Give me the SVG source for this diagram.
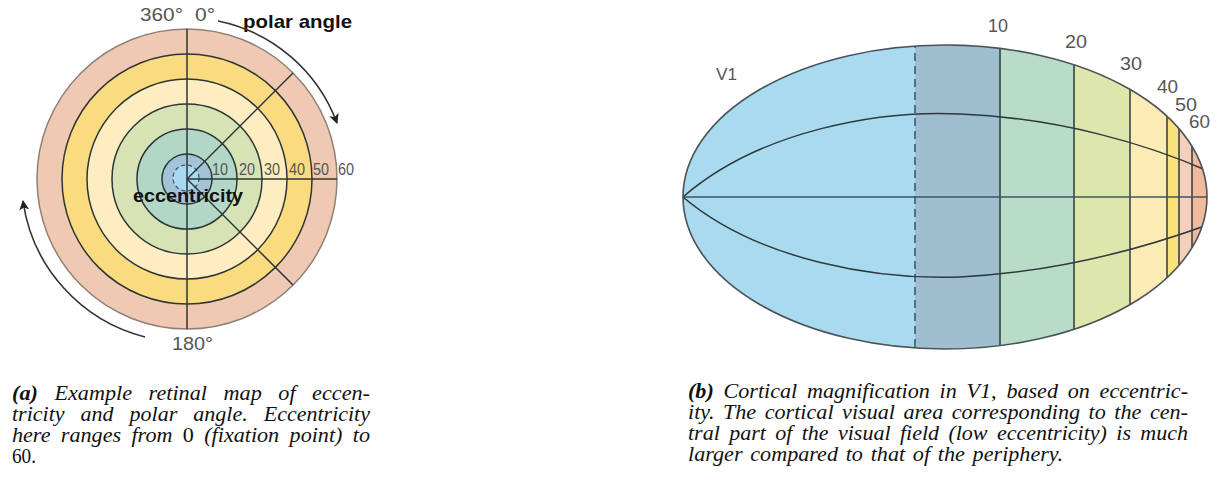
<svg xmlns="http://www.w3.org/2000/svg" width="1230" height="481" viewBox="0 0 1230 481">
<style>
.lbl{font-family:"Liberation Sans",Arial,sans-serif;fill:#555}
.bold{font-family:"Liberation Sans",Arial,sans-serif;font-weight:bold;fill:#111}
.cap{font-family:"Liberation Serif","Times New Roman",serif;font-style:italic;font-size:20px;fill:#111}
.up{font-style:normal}
.ring{stroke:#2e3536;stroke-width:1.5}
.grid{stroke:#2e3a3e;stroke-width:1.5;fill:none}
.arc{stroke:#333;stroke-width:1.6;fill:none}
</style>
<defs>
<marker id="ah" viewBox="0 0 10 10" refX="9" refY="5" markerWidth="10" markerHeight="10" markerUnits="userSpaceOnUse" orient="auto">
<path d="M0,0 L10,5 L0,10 L2.5,5 z" fill="#222"/>
</marker>
<clipPath id="ell"><ellipse cx="945" cy="197" rx="262" ry="152"/></clipPath>
</defs>
<rect width="1230" height="481" fill="#fff"/>

<g id="retinal-map">
<circle cx="187" cy="179" r="150" fill="#efc9b1" stroke="#8f8078" stroke-width="1.5"/>
<circle class="ring" cx="187" cy="179" r="125" fill="#fbdb80"/>
<circle class="ring" cx="187" cy="179" r="100" fill="#fdedc0"/>
<circle class="ring" cx="187" cy="179" r="75" fill="#d5e3b5"/>
<circle class="ring" cx="187" cy="179" r="50" fill="#b3d7c6"/>
<circle class="ring" cx="187" cy="179" r="25" fill="#a3c3d6"/>
<circle cx="186" cy="178" r="13" fill="#a9d9ef" stroke="#3a5a7a" stroke-width="1.3" stroke-dasharray="4,3"/>
<line class="ring" x1="187" y1="29" x2="187" y2="329"/>
<line class="ring" x1="187" y1="179" x2="337" y2="179"/>
<line class="ring" x1="187" y1="179" x2="293" y2="73"/>
<line class="ring" x1="187" y1="179" x2="293" y2="285"/>
<g class="lbl" font-size="16">
<text x="212" y="175" textLength="16" lengthAdjust="spacingAndGlyphs">10</text>
<text x="239" y="175" textLength="16" lengthAdjust="spacingAndGlyphs">20</text>
<text x="264" y="175" textLength="16" lengthAdjust="spacingAndGlyphs">30</text>
<text x="289" y="175" textLength="16" lengthAdjust="spacingAndGlyphs">40</text>
<text x="313" y="175" textLength="16" lengthAdjust="spacingAndGlyphs">50</text>
<text x="338" y="175" textLength="16" lengthAdjust="spacingAndGlyphs">60</text>
</g>
<text class="bold" x="133" y="202" font-size="18.5" textLength="110" lengthAdjust="spacingAndGlyphs">eccentricity</text>
<text class="lbl" x="140" y="21" font-size="19" fill="#444" textLength="43" lengthAdjust="spacingAndGlyphs">360°</text>
<text class="lbl" x="195" y="21" font-size="19" fill="#444" textLength="20" lengthAdjust="spacingAndGlyphs">0°</text>
<text class="bold" x="243" y="28" font-size="19" textLength="109" lengthAdjust="spacingAndGlyphs">polar angle</text>
<text class="lbl" x="172" y="350" font-size="18" fill="#444" textLength="41" lengthAdjust="spacingAndGlyphs">180°</text>
</g>

<g id="arrows">
<path class="arc" d="M218,21 A161 161 0 0 1 337,123" marker-end="url(#ah)"/>
<path class="arc" d="M145,337 A164 164 0 0 1 23,201" marker-end="url(#ah)"/>
</g>

<g id="cortex-v1">
<g clip-path="url(#ell)">
<rect x="680" y="40" width="235" height="320" fill="#a9daef"/>
<rect x="915" y="40" width="85" height="320" fill="#9fbfd0"/>
<rect x="1000" y="40" width="74" height="320" fill="#b8dcc8"/>
<rect x="1074" y="40" width="56" height="320" fill="#dde7ab"/>
<rect x="1130" y="40" width="37" height="320" fill="#fdebb5"/>
<rect x="1167" y="40" width="12" height="320" fill="#f8e27a"/>
<rect x="1179" y="40" width="13" height="320" fill="#f5cfbd"/>
<rect x="1192" y="40" width="20" height="320" fill="#efbb9c"/>
<line x1="915" y1="40" x2="915" y2="360" stroke="#3d5a70" stroke-width="1.6" stroke-dasharray="8,5"/>
<g class="grid">
<line x1="1000" y1="40" x2="1000" y2="360"/>
<line x1="1074" y1="40" x2="1074" y2="360"/>
<line x1="1130" y1="40" x2="1130" y2="360"/>
<line x1="1167" y1="40" x2="1167" y2="360"/>
<line x1="1179" y1="40" x2="1179" y2="360"/>
<line x1="1192" y1="40" x2="1192" y2="360"/>
<line x1="683" y1="197" x2="1210" y2="197" stroke="#3e5663"/>
<path d="M683,197 C760,130 880,110 960,114 C1060,118 1150,145 1210,172"/>
<path d="M683,197 C760,262 880,280 960,277 C1060,272 1150,246 1210,224"/>
</g>
</g>
<ellipse cx="945" cy="197" rx="262" ry="152" fill="none" stroke="#4a5358" stroke-width="1.6"/>
<g class="lbl" font-size="18" fill="#666">
<text x="716" y="80" font-size="16" textLength="21" lengthAdjust="spacingAndGlyphs">V1</text>
<text x="988" y="32" textLength="20" lengthAdjust="spacingAndGlyphs">10</text>
<text x="1065" y="48" textLength="22" lengthAdjust="spacingAndGlyphs">20</text>
<text x="1120" y="70" textLength="22" lengthAdjust="spacingAndGlyphs">30</text>
<text x="1157" y="93" textLength="21" lengthAdjust="spacingAndGlyphs">40</text>
<text x="1175" y="111" textLength="22" lengthAdjust="spacingAndGlyphs">50</text>
<text x="1189" y="128" textLength="21" lengthAdjust="spacingAndGlyphs">60</text>
</g>
</g>

<g id="caption-a">
<text class="cap" x="12" y="400" word-spacing="9.9" textLength="358" lengthAdjust="spacingAndGlyphs"><tspan font-weight="bold">(a)</tspan> Example retinal map of eccen-</text>
<text class="cap" x="12" y="421" word-spacing="9.6" textLength="358" lengthAdjust="spacingAndGlyphs">tricity and polar angle. Eccentricity</text>
<text class="cap" x="12" y="442" word-spacing="4.4" textLength="358" lengthAdjust="spacingAndGlyphs">here ranges from <tspan class="up">0</tspan> (fixation point) to</text>
<text class="cap up" x="12" y="463" textLength="24" lengthAdjust="spacingAndGlyphs">60.</text>
</g>

<g id="caption-b">
<text class="cap" x="688" y="398" word-spacing="3.8" textLength="500" lengthAdjust="spacingAndGlyphs"><tspan font-weight="bold">(b)</tspan> Cortical magnification in V1, based on eccentric-</text>
<text class="cap" x="688" y="419" word-spacing="2.7" textLength="500" lengthAdjust="spacingAndGlyphs">ity. The cortical visual area corresponding to the cen-</text>
<text class="cap" x="688" y="440" word-spacing="3.5" textLength="500" lengthAdjust="spacingAndGlyphs">tral part of the visual field (low eccentricity) is much</text>
<text class="cap" x="688" y="461" word-spacing="2" textLength="375" lengthAdjust="spacingAndGlyphs">larger compared to that of the periphery.</text>
</g>
</svg>
